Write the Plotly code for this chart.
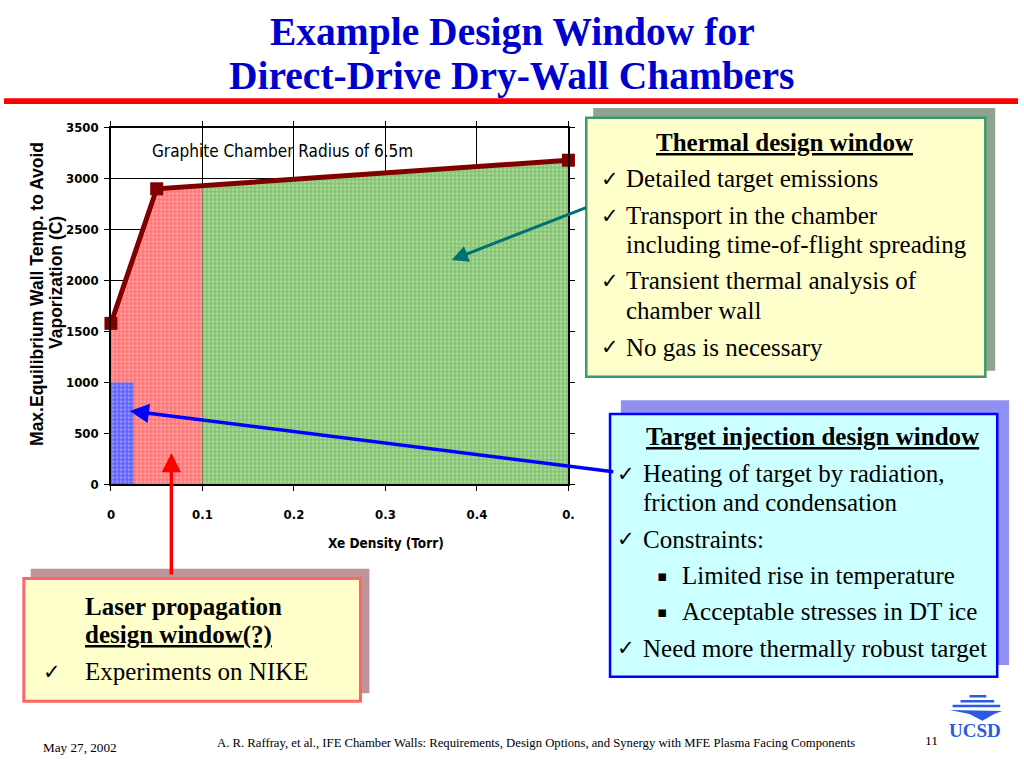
import numpy as np
import plotly.graph_objects as go

# ---------------- data ----------------
xe_density = [0.0, 0.05, 0.5]            # Torr
max_wall_temp = [1580, 2900, 3180]       # C
x_ticks = [0, 0.1, 0.2, 0.3, 0.4, 0.5]
x_tick_text = ["0", "0.1", "0.2", "0.3", "0.4", "0."]
y_ticks = [0, 500, 1000, 1500, 2000, 2500, 3000, 3500]

laser_window_x = [0.0, 0.1]              # red region
thermal_window_x = [0.1, 0.5]            # green region
injection_window_x = [0.0, 0.025]        # blue region
injection_window_top = 1000

title_lines = ["Example Design Window for", "Direct-Drive Dry-Wall Chambers"]
chart_note = "Graphite Chamber Radius of 6.5m"
y_title_lines = ["Max.Equilibrium Wall Temp. to Avoid", "Vaporization (C)"]
x_title = "Xe Density (Torr)"

thermal_title = "Thermal design window"
thermal_items = [["Detailed target emissions"],
                 ["Transport in the chamber", "including time-of-flight spreading"],
                 ["Transient thermal analysis of", "chamber wall"],
                 ["No gas is necessary"]]
inj_title = "Target injection design window"
inj_items = [("check", "Heating of target by radiation,"), ("", "friction and condensation"),
             ("check", "Constraints:"), ("bullet", "Limited rise in temperature"),
             ("bullet", "Acceptable stresses in DT ice"), ("check", "Need more thermally robust target")]
laser_lines = ["Laser propagation", "design window(?)", "Experiments on NIKE"]
footer_date = "May 27, 2002"
footer_ref = "A. R. Raffray, et al., IFE Chamber Walls: Requirements, Design Options, and Synergy with MFE Plasma Facing Components"
page_no = "11"

W, H = 1024, 768
def X(px): return px / W
def Y(py): return 1 - py / H

SERIF = "Liberation Serif, Times New Roman, serif"
NARROW = "DejaVu Sans Condensed, Liberation Sans Narrow, Arial Narrow, Liberation Sans, sans-serif"
SANS = "Liberation Sans, Arial, sans-serif"

fig = go.Figure()

def top_at(xv):
    return float(np.interp(xv, xe_density, max_wall_temp))

# red region
rx = [laser_window_x[0]] + [v for v in xe_density if laser_window_x[0] < v < laser_window_x[1]] + [laser_window_x[1]]
fig.add_trace(go.Scatter(x=rx, y=[top_at(v) for v in rx], mode="none", fill="tozeroy",
                         fillcolor="#FF8080",
                         fillpattern=dict(shape=".", bgcolor="#FF7878", fgcolor="#FFD0D0", size=4, solidity=0.35),
                         hoverinfo="skip", showlegend=False))
# green region
gx = [thermal_window_x[0]] + [v for v in xe_density if thermal_window_x[0] < v < thermal_window_x[1]] + [thermal_window_x[1]]
fig.add_trace(go.Scatter(x=gx, y=[top_at(v) for v in gx], mode="none", fill="tozeroy",
                         fillcolor="#8CC878",
                         fillpattern=dict(shape=".", bgcolor="#86C473", fgcolor="#D8EFD0", size=4, solidity=0.35),
                         hoverinfo="skip", showlegend=False))
# blue region
bx = [injection_window_x[0], injection_window_x[0], injection_window_x[1], injection_window_x[1]]
by = [0, injection_window_top, injection_window_top, 0]
fig.add_trace(go.Scatter(x=bx, y=by, mode="none", fill="toself",
                         fillcolor="#6F6FFF",
                         fillpattern=dict(shape=".", bgcolor="#6464F8", fgcolor="#C8C8FF", size=4, solidity=0.35),
                         hoverinfo="skip", showlegend=False))
# line
fig.add_trace(go.Scatter(x=xe_density, y=max_wall_temp, mode="lines+markers",
                         line=dict(color="#800000", width=5),
                         marker=dict(symbol="square", size=13, color="#800000"),
                         cliponaxis=False, hoverinfo="skip", showlegend=False))

tickfont = dict(family=NARROW, size=13, color="black", weight="bold")
fig.update_layout(
    width=W, height=H, autosize=False,
    margin=dict(l=0, r=0, t=0, b=0),
    paper_bgcolor="white", plot_bgcolor="white",
    showlegend=False,
    xaxis=dict(domain=[X(108), X(570)], range=[0, 0.5], tickvals=x_ticks, ticktext=x_tick_text,
               showgrid=True, gridcolor="black", gridwidth=1, zeroline=False,
               showline=True, linecolor="black", linewidth=1.5, mirror="ticks",
               ticks="outside", ticklen=5, tickcolor="black", ticklabelstandoff=12,
               tickfont=tickfont),
    yaxis=dict(domain=[Y(487), Y(123)], range=[0, 3500], tickvals=y_ticks,
               showgrid=True, gridcolor="black", gridwidth=1, zeroline=False,
               showline=True, linecolor="black", linewidth=1.5, mirror="ticks",
               ticks="outside", ticklen=5, tickcolor="black", ticklabelstandoff=3,
               tickfont=tickfont),
)

shapes = []
# header red rule
shapes.append(dict(type="rect", xref="paper", yref="paper", x0=0, x1=1, y0=Y(99), y1=Y(93),
                   fillcolor="#FF0000", line=dict(width=0)))
# thermal box
shapes.append(dict(type="rect", xref="paper", yref="paper", x0=X(595), x1=X(1001), y0=Y(371), y1=Y(103),
                   fillcolor="#8FA38F", line=dict(width=0)))
shapes.append(dict(type="rect", xref="paper", yref="paper", x0=X(588), x1=X(991), y0=Y(377), y1=Y(113),
                   fillcolor="#FFFFCC", line=dict(color="#3A9A6A", width=2.5)))
# injection box
shapes.append(dict(type="rect", xref="paper", yref="paper", x0=X(623), x1=X(1015), y0=Y(671), y1=Y(401),
                   fillcolor="#9090F2", line=dict(width=0)))
shapes.append(dict(type="rect", xref="paper", yref="paper", x0=X(612), x1=X(1003), y0=Y(683), y1=Y(415),
                   fillcolor="#CCFFFF", line=dict(color="#0000FF", width=2.5)))
# laser box
shapes.append(dict(type="rect", xref="paper", yref="paper", x0=X(27), x1=X(369), y0=Y(700), y1=Y(573),
                   fillcolor="#BF9499", line=dict(width=0)))
shapes.append(dict(type="rect", xref="paper", yref="paper", x0=X(20), x1=X(360), y0=Y(708), y1=Y(583),
                   fillcolor="#FFFFCC", line=dict(color="#FF6666", width=3)))
# UCSD logo stripes
logo_blue = "#2A5BE0"
for (x0, x1, yy, w) in [(975, 992, 703, 2.5), (966, 1000, 708, 2.5), (958, 1006, 713, 2.5)]:
    shapes.append(dict(type="line", xref="paper", yref="paper", x0=X(x0), x1=X(x1), y0=Y(yy), y1=Y(yy),
                       line=dict(color=logo_blue, width=w)))
shapes.append(dict(type="path", xref="paper", yref="paper",
                   path=f"M {X(955)},{Y(717)} L {X(1008)},{Y(718)} L {X(1000)},{Y(721)} L {X(988)},{Y(728)} L {X(975)},{Y(721)} Z",
                   fillcolor=logo_blue, line=dict(width=0)))
fig.update_layout(shapes=shapes)

ann = []
def text(px, py, s, size, family=SERIF, color="black", xanchor="left", bold=False, angle=0):
    ann.append(dict(x=X(px), y=Y(py), xref="paper", yref="paper", text=s, showarrow=False,
                    xanchor=xanchor, yanchor="middle", textangle=angle,
                    font=dict(family=family, size=size, color=color, weight="bold" if bold else "normal")))

# titles
text(514, 25, title_lines[0], 39.5, color="#0000CC", xanchor="center", bold=True)
text(513, 70, title_lines[1], 39.5, color="#0000CC", xanchor="center", bold=True)
# chart texts
text(281, 147, chart_note, 17, family=NARROW, xanchor="center")
text(386, 547, x_title, 13.5, family=NARROW, xanchor="center", bold=True)
text(34, 293, y_title_lines[0], 17.5, family=SANS, xanchor="center", bold=True, angle=-90)
text(52, 281, y_title_lines[1], 17.5, family=SANS, xanchor="center", bold=True, angle=-90)

BOX = 25
# thermal box text
text(788, 138, f"<u>{thermal_title}</u>", BOX, xanchor="center", bold=True)
ty = [[175], [213, 242], [279, 310], [347]]
for item, ys in zip(thermal_items, ty):
    text(601, ys[0], "✓", 21, family="DejaVu Sans")
    for s, yy in zip(item, ys):
        text(626, yy, s, BOX)

# injection box text
text(816, 438, f"<u>{inj_title}</u>", BOX, xanchor="center", bold=True)
iy = [476, 505, 543, 580, 617, 654]
for (kind, s), yy in zip(inj_items, iy):
    if kind == "check":
        text(617, yy, "✓", 21, family="DejaVu Sans")
        text(643, yy, s, BOX)
    elif kind == "bullet":
        text(657, yy, "▪", 15, family="DejaVu Sans")
        text(683, yy, s, BOX)
    else:
        text(643, yy, s, BOX)

# laser box text
text(80, 611, laser_lines[0], BOX, bold=True)
text(80, 641, f"<u>{laser_lines[1]}</u>", BOX, bold=True)
text(37, 678, "✓", 21, family="DejaVu Sans")
text(80, 678, laser_lines[2], BOX)

# footer
text(37, 755, footer_date, 13.2)
text(537, 751, footer_ref, 12.7, xanchor="center")
text(937, 748, page_no, 13.5, xanchor="center")
text(981, 738, "UCSD", 19, family=SERIF, color=logo_blue, xanchor="center", bold=True)

# arrows
def arrow(hx, hy, tx, ty_, color, width):
    ann.append(dict(x=X(hx), y=Y(hy), xref="paper", yref="paper", text="", showarrow=True,
                    ax=tx - hx, ay=ty_ - hy, axref="pixel", ayref="pixel",
                    arrowhead=2, arrowsize=1.1, arrowwidth=width, arrowcolor=color, standoff=0))
arrow(452, 258, 588, 205, "#007070", 3)
arrow(127, 412, 612, 473, "#0000FF", 3.5)
arrow(169, 455, 169, 578, "#FF0000", 3.5)

fig.update_layout(annotations=ann)
fig.write_html("out.html", config={"displayModeBar": False},
               post_script="document.body.style.margin='0';document.body.style.overflow='hidden';")
